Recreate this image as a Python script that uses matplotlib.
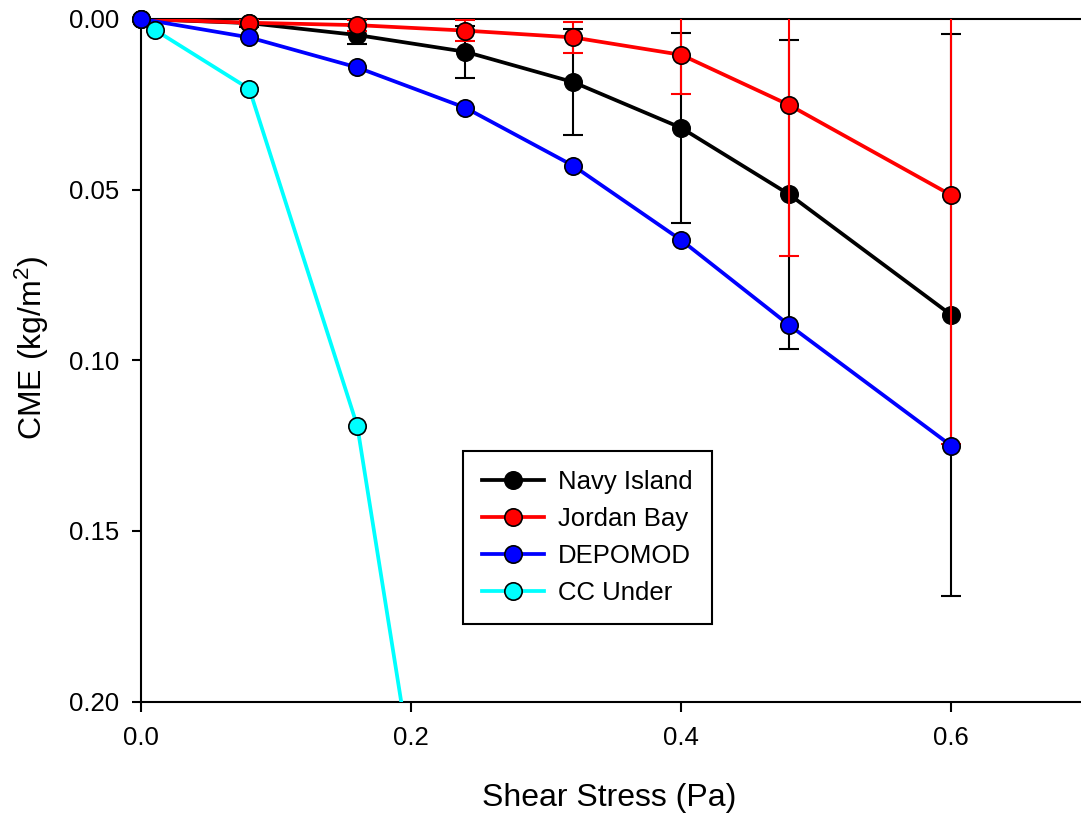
import numpy as np
import matplotlib
matplotlib.use("Agg")
import matplotlib.pyplot as plt
from matplotlib.lines import Line2D

plt.rcParams['font.family'] = ['Liberation Sans', 'DejaVu Sans']
plt.rcParams['mathtext.fontset'] = 'custom'
plt.rcParams['mathtext.rm'] = 'Liberation Sans'
plt.rcParams['mathtext.it'] = 'Liberation Sans'

# ---- data ----
navy_x = [0.0, 0.08, 0.16, 0.24, 0.32, 0.40, 0.48, 0.60]
navy_y = [0.0, 0.0012, 0.0047, 0.0096, 0.0185, 0.0319, 0.0514, 0.0867]
navy_err = [0.0, 0.0012, 0.0026, 0.0076, 0.0156, 0.0279, 0.0452, 0.0824]

jordan_x = [0.0, 0.08, 0.16, 0.24, 0.32, 0.40, 0.48, 0.60]
jordan_y = [0.0, 0.0011, 0.0018, 0.0034, 0.0054, 0.0105, 0.0252, 0.0516]
jordan_err = [0.0, 0.0008, 0.0016, 0.0031, 0.0046, 0.0115, 0.0443, 0.0728]

depomod_x = [0.0, 0.08, 0.16, 0.24, 0.32, 0.40, 0.48, 0.60]
depomod_y = [0.0, 0.0054, 0.0142, 0.0260, 0.0430, 0.0648, 0.0897, 0.1250]

ccunder_x = [0.01, 0.08, 0.16, 0.24]
ccunder_y = [0.0032, 0.0205, 0.1193, 0.318]

labels = ["Navy Island", "Jordan Bay", "DEPOMOD", "CC Under"]
colors = ["black", "#ff0000", "#0000ff", "#00ffff"]

xticks = [0.0, 0.2, 0.4, 0.6]
yticks = [0.00, 0.05, 0.10, 0.15, 0.20]

# ---- figure ----
W, H = 1081, 816
fig = plt.figure(figsize=(W / 100, H / 100), dpi=100)
x0, x1 = 141.4, 141.4 + 0.7 * 1349.5
y0, y1 = 19.0, 701.5
ax = fig.add_axes([x0 / W, (H - y1) / H, (x1 - x0) / W, (y1 - y0) / H])
ax.set_xlim(0, 0.7)
ax.set_ylim(0.2, 0.0)

series = [
    (navy_x, navy_y, navy_err),
    (jordan_x, jordan_y, jordan_err),
    (depomod_x, depomod_y, None),
    (ccunder_x, ccunder_y, None),
]

LW = 2.7
MS = 12.5
handles = []
for i, ((xs, ys, err), lab, col) in enumerate(zip(series, labels, colors)):
    xs = np.asarray(xs)
    ys = np.asarray(ys)
    z = 2 + i
    if err is not None:
        ax.errorbar(xs, ys, yerr=err, fmt='none', ecolor=col, elinewidth=1.5,
                    capsize=7.5, capthick=1.5, zorder=z)
    ax.plot(xs, ys, '-', color=col, lw=LW, zorder=z + 0.1)
    m = ys <= 0.2
    ax.plot(xs[m], ys[m], 'o', ms=MS, mfc=col, mec='black', mew=1.2,
            zorder=z + 0.2, clip_on=False)
    handles.append(Line2D([], [], color=col, lw=LW, marker='o', ms=MS,
                          mfc=col, mec='black', mew=1.2))

ax.spines['right'].set_visible(False)
for s in ['left', 'bottom', 'top']:
    ax.spines[s].set_linewidth(1.5)

ax.set_xticks(xticks)
ax.set_xticklabels([f"{v:.1f}" for v in xticks])
ax.set_yticks(yticks)
ax.set_yticklabels([f"{v:.2f}" for v in yticks])
ax.tick_params(axis='both', direction='out', width=1.5, labelsize=18.5,
               top=False, right=False)
ax.tick_params(axis='x', length=7.5, pad=10)
ax.tick_params(axis='y', length=6.5, pad=9.5)

ax.set_xlabel("Shear Stress (Pa)", fontsize=23)
ax.xaxis.set_label_coords(0.495, -0.119)
ax.set_ylabel(r"CME (kg/m$^2$)", fontsize=23)
ax.yaxis.set_label_coords(-0.096, 0.518)

leg = ax.legend(handles, labels, loc='upper left', bbox_to_anchor=(0.3405, 0.367),
                borderaxespad=0, fontsize=18.5, frameon=True, fancybox=False,
                edgecolor='black', framealpha=1, handlelength=2.4,
                handletextpad=0.55, labelspacing=0.5, borderpad=0.75)
leg.get_frame().set_linewidth(1.5)

fig.savefig("out.png", dpi=100)
